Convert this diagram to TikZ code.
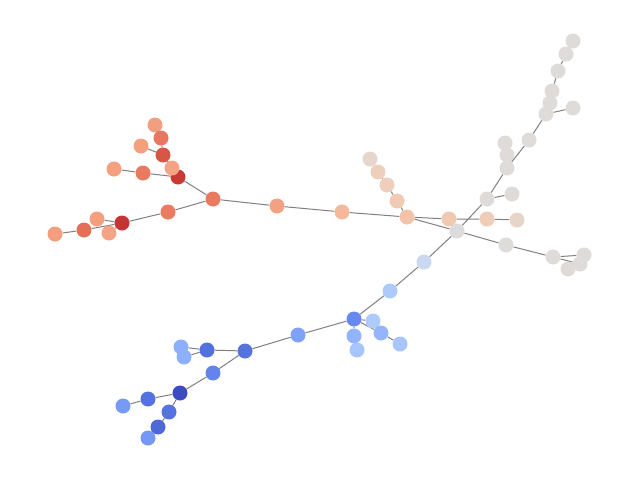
\documentclass[tikz,border=0pt]{standalone}
\usetikzlibrary{backgrounds}
\begin{document}
\begin{tikzpicture}[x=1pt,y=-1pt,
  nd/.code={\definecolor{clr#1}{HTML}{#1}\pgfkeysalso{/tikz/circle,/tikz/inner sep=0pt,/tikz/minimum size=15pt,/tikz/fill=clr#1}},
  ed/.style={draw=black!50,line width=1pt}]
\useasboundingbox (0,0) rectangle (640,480);
% red cluster
\node[nd=F29F80] (a1) at (155,125) {};
\node[nd=E87660] (a2) at (161,138) {};
\node[nd=F4A07F] (a3) at (141,146) {};
\node[nd=D85646] (a4) at (163,155) {};
\node[nd=F4A07F] (a5) at (114,169) {};
\node[nd=E97A61] (a6) at (143,173) {};
\node[nd=C83B35] (a8) at (178,177) {};
\node[nd=F4A384] (a7) at (172,168) {};
\node[nd=E97A61] (h1) at (213,199) {};
\node[nd=EA7B60] (b1) at (168,212) {};
\node[nd=C53334] (b2) at (122,223) {};
\node[nd=F4A07F] (b3) at (97,219) {};
\node[nd=E46E56] (b4) at (84,230) {};
\node[nd=F39E7E] (b5) at (55,234) {};
\node[nd=F4A384] (b6) at (109,233) {};
\node[nd=F2A282] (c1) at (277,206) {};
\node[nd=F5B89D] (c2) at (342,212) {};
\node[nd=F2C3A9] (d) at (407,217) {};
\node[nd=F0CAB4] (e4) at (397,201) {};
\node[nd=EFCEBB] (e3) at (387,185) {};
\node[nd=EECFBC] (e2) at (378,172) {};
\node[nd=E8D5CB] (e1) at (370,159) {};
\node[nd=F1C9B2] (f1) at (449,219) {};
\node[nd=EFCDB9] (f2) at (487,219) {};
\node[nd=E8D5CA] (f3) at (517,220) {};
% gray cluster
\node[nd=DDDCDC] (g) at (457,231) {};
\node[nd=DFDBD9] (k1) at (506,245) {};
\node[nd=DFDBD9] (k2) at (553,257) {};
\node[nd=DFDBD9] (k3) at (584,255) {};
\node[nd=DFDBD9] (k4) at (580,264) {};
\node[nd=DFDBD9] (k5) at (568,269) {};
\node[nd=DFDBD9] (m1) at (487,199) {};
\node[nd=DFDBD9] (m2) at (512,194) {};
\node[nd=DFDBD9] (m5) at (505,143) {};
\node[nd=DFDBD9] (m4) at (507,155) {};
\node[nd=DFDBD9] (m3) at (507,168) {};
\node[nd=DFDBD9] (m6) at (529,140) {};
\node[nd=DFDBD9] (m8) at (573,108) {};
\node[nd=DFDBD9] (m13) at (573,41) {};
\node[nd=DFDBD9] (m12) at (566,54) {};
\node[nd=DFDBD9] (m11) at (558,71) {};
\node[nd=DFDBD9] (m10) at (552,91) {};
\node[nd=DFDBD9] (m9) at (550,103) {};
\node[nd=DFDBD9] (m7) at (546,114) {};
% blue cluster
\node[nd=C9D8F0] (p1) at (424,262) {};
\node[nd=AEC9FC] (p2) at (390,291) {};
\node[nd=6788EE] (p3) at (354,319) {};
\node[nd=AFCAFC] (p4) at (373,321) {};
\node[nd=93B5FE] (p5) at (381,333) {};
\node[nd=A8C5FE] (p6) at (400,344) {};
\node[nd=92B4FE] (p7) at (354,336) {};
\node[nd=A6C4FE] (p8) at (357,350) {};
\node[nd=7EA1FA] (q1) at (298,335) {};
\node[nd=5572DF] (q2) at (245,351) {};
\node[nd=5470DE] (q3) at (207,350) {};
\node[nd=8CAFFE] (q4) at (181,347) {};
\node[nd=8DB0FE] (q5) at (184,357) {};
\node[nd=6384EB] (r1) at (213,373) {};
\node[nd=3B4CC0] (r2) at (180,393) {};
\node[nd=5572DF] (r3) at (148,399) {};
\node[nd=779AF7] (r4) at (123,406) {};
\node[nd=5673E0] (r5) at (169,412) {};
\node[nd=4E68D8] (r6) at (158,427) {};
\node[nd=7597F6] (r7) at (148,438) {};
\begin{pgfonlayer}{background}
\path[ed] (a1)--(a2) (a2)--(a4) (a3)--(a4) (a4)--(a8) (a7)--(a8)
  (a5)--(a6) (a6)--(a8) (a8)--(h1) (h1)--(b1) (b1)--(b2) (b2)--(b3)
  (b2)--(b4) (b4)--(b5) (b2)--(b6) (h1)--(c1) (c1)--(c2) (c2)--(d)
  (d)--(e4) (e4)--(e3) (e3)--(e2) (e2)--(e1) (d)--(f1) (f1)--(f2) (f2)--(f3)
  (d)--(g) (g)--(k1) (k1)--(k2) (k2)--(k3) (k2)--(k4) (k4)--(k5)
  (g)--(m1) (m1)--(m2) (m1)--(m3) (m3)--(m4) (m4)--(m5) (m3)--(m6)
  (m6)--(m7) (m7)--(m8) (m7)--(m9) (m9)--(m10) (m10)--(m11) (m11)--(m12) (m12)--(m13)
  (g)--(p1) (p1)--(p2) (p2)--(p3) (p3)--(p4) (p3)--(p5) (p5)--(p6)
  (p3)--(p7) (p7)--(p8) (p3)--(q1) (q1)--(q2) (q2)--(q3) (q3)--(q4) (q3)--(q5)
  (q2)--(r1) (r1)--(r2) (r2)--(r3) (r3)--(r4) (r2)--(r5) (r5)--(r6) (r6)--(r7);
\end{pgfonlayer}
\end{tikzpicture}
\end{document}
